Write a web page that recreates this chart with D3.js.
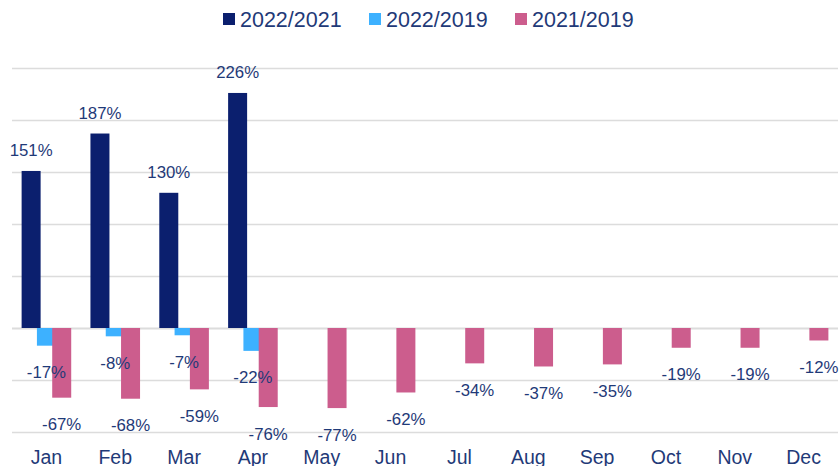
<!DOCTYPE html>
<html><head><meta charset="utf-8">
<script src="https://cdn.jsdelivr.net/npm/d3@7"></script>
<style>body{margin:0;background:#fff;}svg{display:block;font-family:"Liberation Sans",Arial,sans-serif;}</style>
</head><body><div id="chart"></div>
<script>
const months = ["Jan","Feb","Mar","Apr","May","Jun","Jul","Aug","Sep","Oct","Nov","Dec"];
const seriesNames = ["2022/2021","2022/2019","2021/2019"];
const s2022_2021 = [151,187,130,226,null,null,null,null,null,null,null,null];
const s2022_2019 = [-17,-8,-7,-22,null,null,null,null,null,null,null,null];
const s2021_2019 = [-67,-68,-59,-76,-77,-62,-34,-37,-35,-19,-19,-12];
const colors = ["#0b1f6e","#3db1ff","#cc5d8d"];
const yTicks = [-100,-50,0,50,100,150,200,250];

const W = 839, H = 466;
const textColor = "#1f3a78";
const svg = d3.select("#chart").append("svg").attr("width",W).attr("height",H);

const x = d3.scaleBand().domain(months).range([12,838]).padding(0);
const y = d3.scaleLinear().domain([-100,250]).range([432,68]);
const xs = d3.scalePoint().domain(seriesNames).range([-15.3,15.3]);
const barW = 19;

// gridlines
svg.append("g").selectAll("line").data(yTicks).join("line")
  .attr("x1",12).attr("x2",838)
  .attr("y1",d=>y(d)+0.5).attr("y2",d=>y(d)+0.5)
  .attr("stroke","#dcdcdc").attr("stroke-width",d=>d===0?2:1.5);

const allSeries = [s2022_2021, s2022_2019, s2021_2019];
allSeries.forEach((vals,si)=>{
  const data = months.map((m,i)=>({m, v: vals[i]})).filter(d=>d.v!==null);
  const g = svg.append("g");
  g.selectAll("rect").data(data).join("rect")
    .attr("x",d=>x(d.m)+x.bandwidth()/2+xs(seriesNames[si])-barW/2)
    .attr("width",barW)
    .attr("y",d=>Math.min(y(d.v),y(0)))
    .attr("height",d=>Math.abs(y(d.v)-y(0)))
    .attr("fill",colors[si]);
});
allSeries.forEach((vals,si)=>{
  const data = months.map((m,i)=>({m, v: vals[i]})).filter(d=>d.v!==null);
  svg.append("g").selectAll("text").data(data).join("text")
    .attr("x",d=>x(d.m)+x.bandwidth()/2+xs(seriesNames[si]))
    .attr("y",d=>d.v>=0 ? y(d.v)-15 : y(d.v)+32.5)
    .attr("text-anchor","middle")
    .attr("font-size",16.8)
    .attr("fill",textColor)
    .text(d=>d.v+"%");
});

// x axis labels
const xAxis = d3.axisBottom(x).tickSize(0).tickPadding(0);
const ax = svg.append("g").attr("transform","translate(0,450)").call(xAxis);
ax.select(".domain").remove();
ax.selectAll("text").attr("font-size",19.5).attr("fill",textColor)
  .attr("font-family","Liberation Sans, Arial, sans-serif").attr("dy",null).attr("y",13.5);

// legend
const legendX = [223,369,515];
const lg = svg.append("g");
seriesNames.forEach((n,i)=>{
  lg.append("rect").attr("x",legendX[i]).attr("y",13).attr("width",12).attr("height",12).attr("fill",colors[i]);
  lg.append("text").attr("x",legendX[i]+17).attr("y",26.5).attr("font-size",21.5).attr("fill",textColor).text(n);
});
</script></body></html>
